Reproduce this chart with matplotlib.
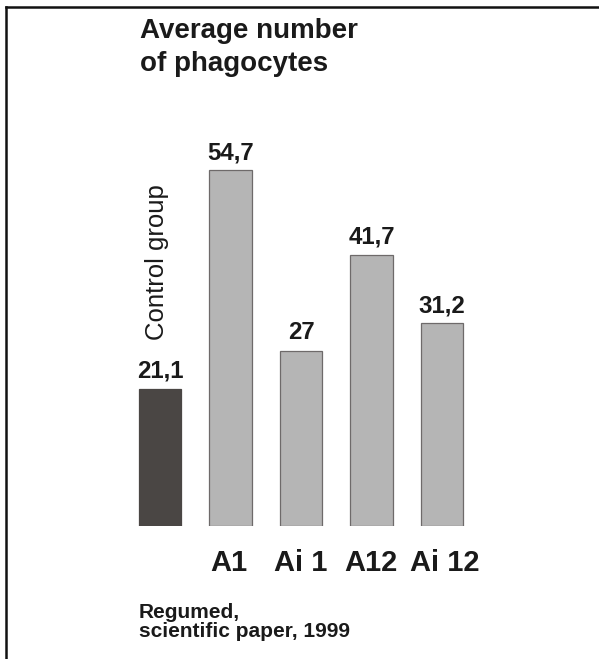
import matplotlib
matplotlib.use("Agg")
import matplotlib.pyplot as plt
from matplotlib.lines import Line2D

categories = ["", "A1", "Ai 1", "A12", "Ai 12"]
values = [21.1, 54.7, 27.0, 41.7, 31.2]
value_labels = ["21,1", "54,7", "27", "41,7", "31,2"]
control_label = "Control group"
title = "Average number\nof phagocytes"
source = "Regumed,\nscientific paper, 1999"

plt.rcParams['font.family'] = ['Liberation Sans', 'DejaVu Sans']

W, H = 599, 659
fig = plt.figure(figsize=(W / 100, H / 100), dpi=100)
fig.patch.set_facecolor("white")

# axes: x from -0.5..4.5 mapped to px 125..477 ; y 0 at px 526 (from top)
ax = fig.add_axes([125 / W, (H - 526) / H, 352 / W, 390 / H])
ax.set_xlim(-0.5, 4.5)
ax.set_ylim(0, 60)
ax.axis("off")

colors = ["#4a4644"] + ["#b5b5b5"] * 4
edges = ["#4a4644"] + ["#6e6a6a"] * 4
x = list(range(len(values)))
ax.bar(x, values, width=0.6, color=colors, edgecolor=edges, linewidth=0.9)

for i, (v, lab) in enumerate(zip(values, value_labels)):
    ax.annotate(lab, xy=(i, v), xytext=(0, 8), textcoords="offset points",
                ha="center", va="baseline", fontsize=17.3, fontweight="bold",
                color="#1a1a1a")

for i, c in enumerate(categories):
    if c:
        ax.annotate(c, xy=(i, 0), xycoords=("data", "axes fraction"),
                    xytext=(-1.5 if i == 1 else 2 if i == 4 else 0, -32.4),
                    textcoords="offset points",
                    ha="center", va="baseline", fontsize=21, fontweight="bold",
                    color="#1a1a1a")

# rotated control label
ax.annotate(control_label, xy=(0, values[0]), xytext=(-2.5, 91), textcoords="offset points",
            rotation=90, ha="center", va="center", fontsize=18.5, color="#1a1a1a")

# va='baseline' on multi-line text aligns the last line's baseline
fig.text(140 / W, 1 - 71 / H, title, ha="left", va="baseline", fontsize=20,
         fontweight="bold", linespacing=1.36, color="#1a1a1a")
fig.text(139 / W, 1 - 637 / H, source, ha="left", va="baseline", fontsize=15,
         fontweight="bold", linespacing=1.0, color="#1a1a1a")

# frame lines (top and left)
fig.add_artist(Line2D([6 / W, 1], [1 - 6.5 / H, 1 - 6.5 / H], transform=fig.transFigure,
                      color="#111111", linewidth=1.8))
fig.add_artist(Line2D([6 / W, 6 / W], [0, 1 - 6.5 / H], transform=fig.transFigure,
                      color="#111111", linewidth=1.8))

fig.savefig("out.png", dpi=100, facecolor="white")
